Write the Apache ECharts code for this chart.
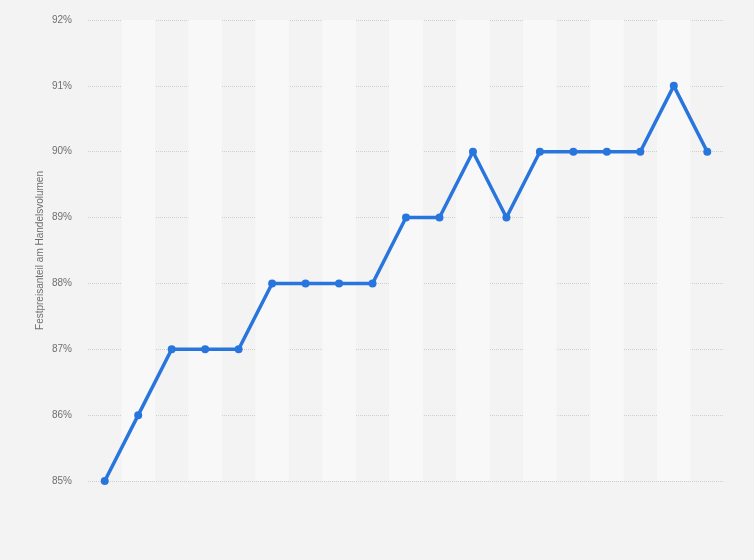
<!DOCTYPE html>
<html>
<head>
<meta charset="utf-8">
<script src="https://cdn.jsdelivr.net/npm/echarts@6/dist/echarts.min.js"></script>
<style>
html, body { margin: 0; padding: 0; background: #f3f3f3; }
#chart { width: 754px; height: 560px; }
</style>
</head>
<body>
<div id="chart"></div>
<script>
// one point per period, no x labels shown in the original
let categories = ["1","2","3","4","5","6","7","8","9","10","11","12","13","14","15","16","17","18","19"]
let shares = [85, 86, 87, 87, 87, 88, 88, 88, 88, 89, 89, 90, 89, 90, 90, 90, 90, 91, 90]
let yName = "Festpreisanteil am Handelsvolumen"

let chart = echarts.init(document.getElementById("chart"))
let option = {
	backgroundColor: "#f3f3f3",
	animation: false,
	grid: {
		left: 88,
		right: 30,
		top: 20,
		bottom: 79
	},
	xAxis: {
		type: "category",
		data: categories,
		boundaryGap: true,
		axisLine: {show: false},
		axisTick: {show: false},
		axisLabel: {show: false},
		splitArea: {
			show: true,
			areaStyle: {color: ["rgba(0,0,0,0)", "#f8f8f8"]}
		}
	},
	yAxis: {
		type: "value",
		min: 85,
		max: 92,
		interval: 1,
		name: yName,
		nameLocation: "middle",
		nameGap: 43,
		nameMoveOverlap: false,
		nameTextStyle: {color: "#6f6f6f", fontSize: 10, fontFamily: "Arial, Liberation Sans"},
		axisLine: {show: false},
		axisTick: {show: false},
		axisLabel: {
			formatter: "{value}%",
			color: "#6f6f6f",
			fontSize: 10,
			fontFamily: "Arial, Liberation Sans",
			margin: 16
		},
		splitLine: {
			lineStyle: {color: "#cfcfcf", type: [1, 1], width: 1}
		}
	},
	series: [
		{
			type: "line",
			data: shares,
			symbol: "circle",
			symbolSize: 8,
			lineStyle: {color: "#2876dd", width: 3.5},
			itemStyle: {color: "#2876dd"}
		}
	]
}
chart.setOption(option)
</script>
</body>
</html>
